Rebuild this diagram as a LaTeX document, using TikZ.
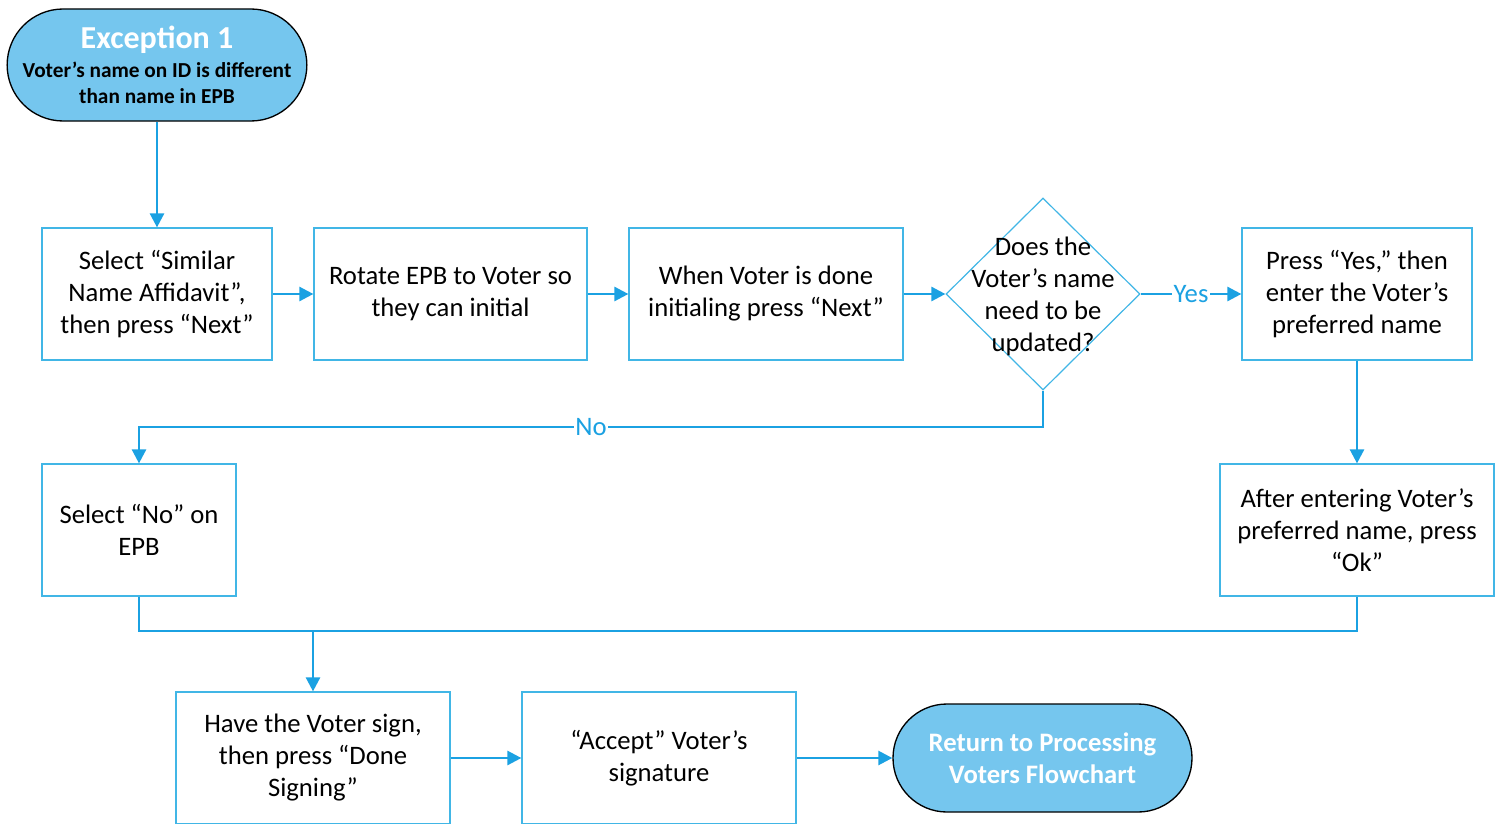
\documentclass[tikz,border=0pt]{standalone}
\usepackage{fontspec}
\setmainfont{Carlito}
\usetikzlibrary{shapes.geometric,shapes.misc,arrows.meta}
\definecolor{termfill}{RGB}{117,198,238}
\definecolor{linecol}{RGB}{27,161,226}
\definecolor{boxcol}{RGB}{65,182,230}
\tikzset{
  procbox/.style={draw=boxcol, line width=0.9pt, fill=white, rectangle, inner sep=0pt, align=center,
    font=\fontsize{20}{24}\selectfont},
  termbox/.style={draw=black, line width=1pt, fill=termfill, rounded rectangle, inner sep=0pt, align=center},
  decbox/.style={draw=boxcol, line width=0.9pt, fill=white, diamond, inner sep=0pt, aspect=1, align=center},
  conn/.style={draw=linecol, line width=1.9pt, -{Triangle[length=10.5pt,width=10.5pt]}},
  plain/.style={draw=linecol, line width=1.9pt},
  lbl/.style={fill=white, text=linecol, inner sep=1pt, font=\fontsize{20}{24}\selectfont}
}
\begin{document}
\begin{tikzpicture}[x=0.75pt,y=-0.75pt]
\useasboundingbox (0,0) rectangle (1502,824);
% terminals
\node[termbox, minimum width=298*0.75pt, minimum height=112*0.75pt,
  font=\fontsize{16}{19.5}\selectfont\bfseries] (exc) at (157,65)
  {\textcolor{white}{\fontsize{24}{26}\selectfont Exception 1}\\[2pt]
   Voter’s name on ID is different\\ than name in EPB};
\node[termbox, minimum width=299*0.75pt, minimum height=108*0.75pt, text=white,
  font=\fontsize{20}{24}\selectfont\bfseries] (ret) at (1042.5,758)
  {Return to Processing\\ Voters Flowchart};
% process boxes
\node[procbox, minimum width=230*0.75pt, minimum height=132*0.75pt] (b1) at (157,294)
  {Select “Similar\\ Name Affidavit”,\\ then press “Next”};
\node[procbox, minimum width=273*0.75pt, minimum height=132*0.75pt] (b2) at (450.5,294)
  {Rotate EPB to Voter so\\ they can initial};
\node[procbox, minimum width=274*0.75pt, minimum height=132*0.75pt] (b3) at (766,294)
  {When Voter is done\\ initialing press “Next”};
\node[decbox, minimum width=194*0.75pt, minimum height=192*0.75pt] (dec) at (1043,294) {};
\node[font=\fontsize{20}{24}\selectfont, align=center, inner sep=0pt] (dectext) at (1043,296)
  {Does the\\ Voter’s name\\ need to be\\ updated?};
\node[procbox, minimum width=230*0.75pt, minimum height=132*0.75pt] (b4) at (1357,294)
  {Press “Yes,” then\\ enter the Voter’s\\ preferred name};
\node[procbox, minimum width=274*0.75pt, minimum height=132*0.75pt] (b5) at (1357,530)
  {After entering Voter’s\\ preferred name, press\\ “Ok”};
\node[procbox, minimum width=194*0.75pt, minimum height=132*0.75pt] (b6) at (139,530)
  {Select “No” on\\ EPB};
\node[procbox, minimum width=274*0.75pt, minimum height=132*0.75pt] (b7) at (313,758)
  {Have the Voter sign,\\ then press “Done\\ Signing”};
\node[procbox, minimum width=274*0.75pt, minimum height=132*0.75pt] (b8) at (659,758)
  {“Accept” Voter’s\\ signature};
% connectors
\draw[conn] (exc.south) -- (b1.north);
\draw[conn] (b1.east) -- (b2.west);
\draw[conn] (b2.east) -- (b3.west);
\draw[conn] (b3.east) -- (dec.west);
\draw[conn] (dec.east) -- node[lbl, pos=0.5] (yes) {Yes} (b4.west);
\draw[conn] (b4.south) -- (b5.north);
\coordinate (nocorner) at (139,427);
\draw[conn] (dec.south) |- node[lbl, pos=0.75] (no) {No} (nocorner) -- (b6.north);
\coordinate (join) at (313,631);
\draw[plain] (b6.south) |- (join);
\draw[plain] (b5.south) |- (join);
\draw[conn] (join) -- (b7.north);
\draw[conn] (b7.east) -- (b8.west);
\draw[conn] (b8.east) -- (ret.west);
\end{tikzpicture}
\end{document}
